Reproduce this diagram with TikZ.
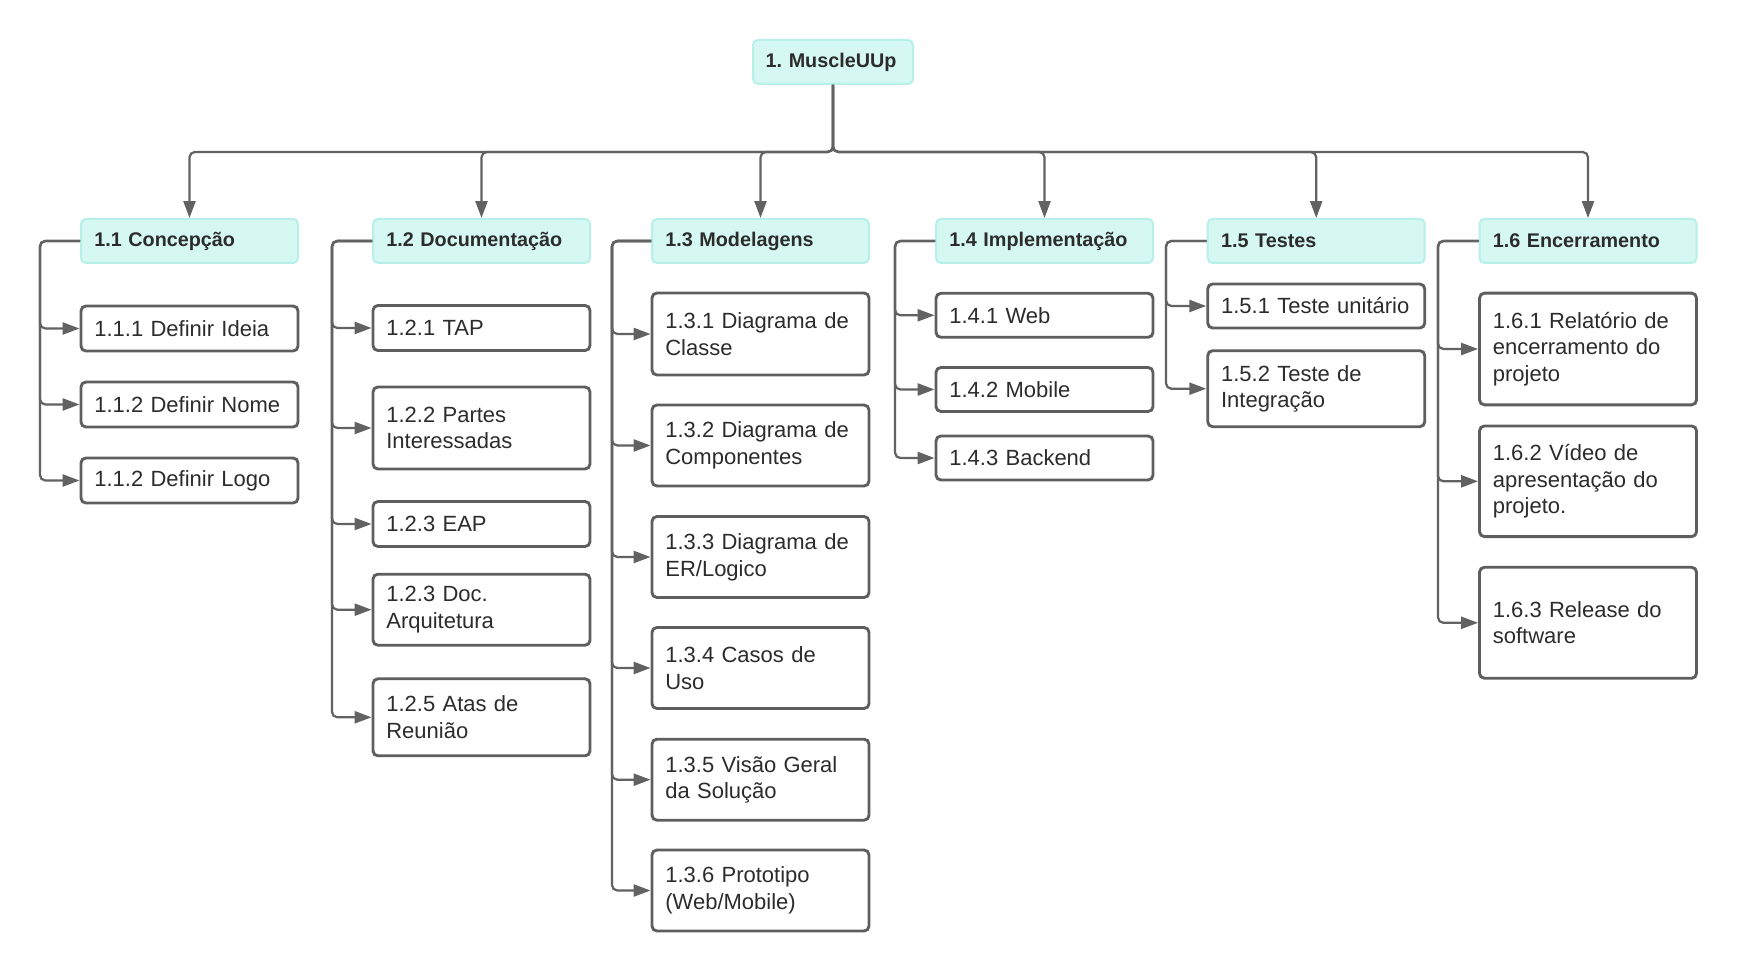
\documentclass[tikz,border=0pt]{standalone}
\usepackage{fontspec}
\setmainfont{Liberation Sans}
\usetikzlibrary{arrows.meta}
\definecolor{hdrfill}{HTML}{D6F8F2}
\definecolor{hdrline}{HTML}{B6F0E8}
\definecolor{boxline}{HTML}{5E5E5E}
\definecolor{connc}{HTML}{626262}
\definecolor{txtc}{HTML}{2C2C2C}
\frenchspacing
\tikzset{
  hdr/.style={draw=hdrline, fill=hdrfill, line width=0.9pt, rounded corners=2.2pt,
    minimum width=97.65pt, minimum height=19.8pt, text width=85.65pt,
    inner xsep=6pt, inner ysep=0pt, align=left, text=txtc,
    font=\fontsize{8.9}{10.7}\selectfont\bfseries},
  rootbox/.style={hdr, minimum width=72pt, text width=60.6pt, inner xsep=5.7pt},
  item/.style={draw=boxline, fill=white, line width=1.3pt, rounded corners=2.2pt,
    minimum width=97.65pt, text width=85.65pt, inner xsep=6pt, inner ysep=0pt,
    align=left, text=txtc, font=\fontsize{9.9}{12}\selectfont},
  conn/.style={draw=connc, line width=1pt, rounded corners=2.4pt,
    -{Triangle[length=7.6pt,width=5.4pt]}},
}
\begin{document}
\begin{tikzpicture}[x=0.45pt, y=-0.45pt]
\useasboundingbox (0,0) rectangle (1737,971);
% root
\node[rootbox, minimum height=19.8pt] (root) at (833,62) {\mbox{1. MuscleUUp}};
\coordinate (bar) at (0,152);
% headers
\node[hdr] (h1) at (189.5,241) {1.1 Concepção};
\node[hdr] (h2) at (481.5,241) {1.2 Documentação};
\node[hdr] (h3) at (760.5,241) {1.3 Modelagens};
\node[hdr] (h4) at (1044.5,241) {1.4 Implementação};
\node[hdr] (h5) at (1316.2,241) {1.5 Testes};
\node[hdr] (h6) at (1588,241) {1.6 Encerramento};
% vertical rails
\coordinate (v1) at (40,0);
\coordinate (v2) at (332,0);
\coordinate (v3) at (612,0);
\coordinate (v4) at (895,0);
\coordinate (v5) at (1166,0);
\coordinate (v6) at (1438,0);
% column 1
\node[item, minimum height=20.25pt] (c11) at (189.5,328.5) {1.1.1 Definir Ideia};
\node[item, minimum height=20.25pt] (c12) at (189.5,404.5) {1.1.2 Definir Nome};
\node[item, minimum height=20.25pt] (c13) at (189.5,480.5) {1.1.2 Definir Logo};
% column 2
\node[item, minimum height=20.25pt] (c21) at (481.5,328) {1.2.1 TAP};
\node[item, minimum height=36.9pt] (c22) at (481.5,428) {1.2.2 Partes\\Interessadas};
\node[item, minimum height=20.25pt] (c23) at (481.5,524) {1.2.3 EAP};
\node[item, minimum height=31.95pt] (c24) at (481.5,609.7) {1.2.3 Doc.\\Arquitetura};
\node[item, minimum height=34.65pt] (c25) at (481.5,717.3) {1.2.5 Atas de\\Reunião};
% column 3
\node[item, minimum height=36.9pt] (c31) at (760.5,334) {1.3.1 Diagrama de\\Classe};
\node[item, minimum height=36.45pt] (c32) at (760.5,445.5) {1.3.2 Diagrama de\\Componentes};
\node[item, minimum height=36.45pt] (c33) at (760.5,557) {1.3.3 Diagrama de\\ER/Logico};
\node[item, minimum height=36.45pt] (c34) at (760.5,668) {1.3.4 Casos de\\Uso};
\node[item, minimum height=36.45pt] (c35) at (760.5,779.7) {1.3.5 Visão Geral\\da Solução};
\node[item, minimum height=36.45pt] (c36) at (760.5,890.5) {1.3.6 Prototipo\\(Web/Mobile)};
% column 4
\node[item, minimum height=19.8pt] (c41) at (1044.5,315.3) {1.4.1 Web};
\node[item, minimum height=19.8pt] (c42) at (1044.5,389.5) {1.4.2 Mobile};
\node[item, minimum height=19.8pt] (c43) at (1044.5,458) {1.4.3 Backend};
% column 5
\node[item, minimum height=19.8pt] (c51) at (1316.2,306) {1.5.1 Teste unitário};
\node[item, minimum height=34.2pt] (c52) at (1316.2,388.7) {1.5.2 Teste de\\Integração};
% column 6
\node[item, minimum height=50.25pt] (c61) at (1588,349) {1.6.1 Relatório de\\encerramento do\\projeto};
\node[item, minimum height=49.8pt] (c62) at (1588,481.3) {1.6.2 Vídeo de\\apresentação do\\projeto.};
\node[item, minimum height=49.95pt] (c63) at (1588,622.8) {1.6.3 Release do\\software\\[-3pt]};
% root to headers
\foreach \h in {h1,h2,h3,h4,h5,h6}
  \draw[conn] (root.south) -- (root.south |- bar) -| (\h.north);
% header to children
\foreach \h/\v/\c in {h1/v1/c11,h1/v1/c12,h1/v1/c13,
  h2/v2/c21,h2/v2/c22,h2/v2/c23,h2/v2/c24,h2/v2/c25,
  h3/v3/c31,h3/v3/c32,h3/v3/c33,h3/v3/c34,h3/v3/c35,h3/v3/c36,
  h4/v4/c41,h4/v4/c42,h4/v4/c43,
  h5/v5/c51,h5/v5/c52,
  h6/v6/c61,h6/v6/c62,h6/v6/c63}
  \draw[conn] (\h.west) -- (\h.west -| \v) |- (\c.west);
\end{tikzpicture}
\end{document}
